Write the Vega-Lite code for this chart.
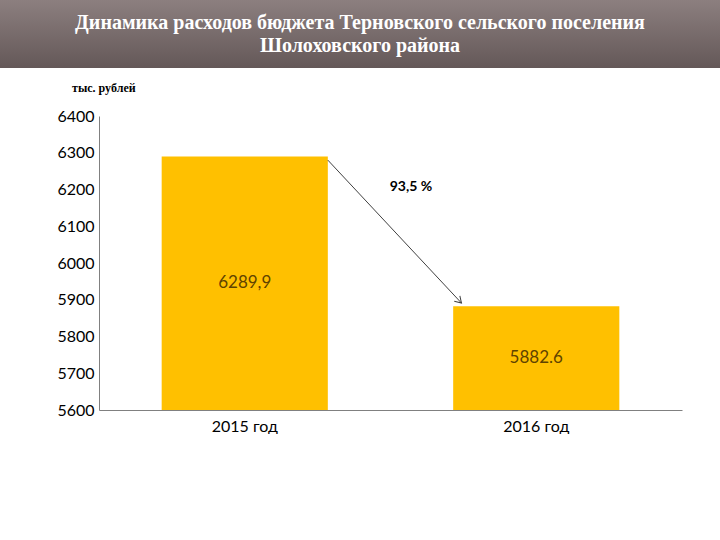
{
  "$schema": "https://vega.github.io/schema/vega-lite/v6.json",
  "padding": 0,
  "background": "white",
  "spacing": 48,
  "bounds": "flush",
  "config": {"view": {"stroke": null}},
  "vconcat": [
    {
      "width": 720,
      "height": 68,
      "data": {"values": [{"title": "Динамика расходов бюджета Терновского сельского поселения\nШолоховского района"}]},
      "layer": [
        {
          "mark": {
            "type": "rect",
            "color": {
              "gradient": "linear",
              "x1": 0, "y1": 0, "x2": 0, "y2": 1,
              "stops": [{"offset": 0, "color": "#8c7f7f"}, {"offset": 1, "color": "#645858"}]
            }
          },
          "encoding": {}
        },
        {
          "mark": {
            "type": "text",
            "font": "Liberation Serif",
            "fontWeight": "bold",
            "fontSize": 20,
            "color": "white",
            "lineBreak": "\n",
            "lineHeight": 23,
            "align": "center",
            "baseline": "middle",
            "dy": -11
          },
          "encoding": {"text": {"field": "title"}}
        }
      ]
    },
    {
      "spacing": 0,
      "bounds": "flush",
      "hconcat": [
        {
          "width": 99,
          "height": 294,
          "data": {"values": []},
          "mark": "text",
          "encoding": {}
        },
        {
          "width": 583,
          "height": 294,
          "title": {
            "text": "тыс. рублей",
            "anchor": "start",
            "frame": "group",
            "dx": -27,
            "offset": 13,
            "font": "Liberation Serif",
            "fontWeight": "bold",
            "fontSize": 12,
            "color": "#000000"
          },
          "data": {"values": [
            {"year": "2015 год", "value": 6289.9, "label": "6289,9"},
            {"year": "2016 год", "value": 5882.6, "label": "5882.6"}
          ]},
          "resolve": {"scale": {"y": "independent"}},
          "layer": [
            {
              "mark": {"type": "bar", "color": "#FFC000"},
              "encoding": {
                "x": {
                  "field": "year", "type": "nominal",
                  "scale": {"paddingInner": 0.43, "paddingOuter": 0.215},
                  "axis": {
                    "title": null, "labelAngle": 0, "ticks": false,
                    "domainColor": "#808080", "labelFont": "Lato", "labelFontSize": 16,
                    "labelColor": "#000000", "labelPadding": 8
                  }
                },
                "y": {
                  "field": "value", "type": "quantitative",
                  "scale": {"domain": [5600, 6400], "zero": false, "nice": false},
                  "axis": {
                    "title": null, "values": [5600, 5700, 5800, 5900, 6000, 6100, 6200, 6300, 6400],
                    "format": "d", "ticks": false, "grid": false, "domainColor": "#808080",
                    "labelFont": "Lato", "labelFontSize": 16, "labelColor": "#000000", "labelPadding": 5
                  }
                },
                "y2": {"datum": 5600}
              }
            },
            {
              "mark": {"type": "text", "font": "Lato", "fontSize": 17, "color": "#5f4300", "baseline": "middle"},
              "encoding": {
                "x": {"field": "year", "type": "nominal"},
                "y": {"field": "value", "type": "quantitative", "scale": {"domain": [5600, 7200], "zero": false, "nice": false}, "axis": null},
                "text": {"field": "label"}
              }
            },
            {
              "data": {"values": [{"change": "93,5 %"}]},
              "layer": [
                {
                  "mark": {"type": "rule", "color": "#404040", "strokeWidth": 1},
                  "encoding": {
                    "x": {"datum": "2015 год", "type": "nominal", "bandPosition": 1},
                    "x2": {"datum": "2016 год", "bandPosition": 0.05},
                    "y": {"datum": 6280, "type": "quantitative", "scale": {"domain": [5600, 6400], "zero": false, "nice": false}, "axis": null},
                    "y2": {"datum": 5891}
                  }
                },
                {
                  "mark": {"type": "point", "shape": "M-0.55,0.9L0,0L0.55,0.9", "filled": false, "stroke": "#404040", "strokeWidth": 1, "size": 200, "angle": 136, "opacity": 1},
                  "encoding": {
                    "x": {"datum": "2016 год", "type": "nominal", "bandPosition": 0.05},
                    "y": {"datum": 5891, "type": "quantitative", "scale": {"domain": [5600, 6400], "zero": false, "nice": false}, "axis": null}
                  }
                },
                {
                  "mark": {"type": "text", "font": "Lato", "fontWeight": "bold", "fontSize": 14, "color": "#000000", "baseline": "middle"},
                  "encoding": {
                    "x": {"datum": "2015 год", "type": "nominal", "bandPosition": 1.5},
                    "y": {"datum": 6207, "type": "quantitative", "scale": {"domain": [5600, 6400], "zero": false, "nice": false}, "axis": null},
                    "text": {"field": "change"}
                  }
                }
              ]
            }
          ]
        }
      ]
    }
  ]
}
